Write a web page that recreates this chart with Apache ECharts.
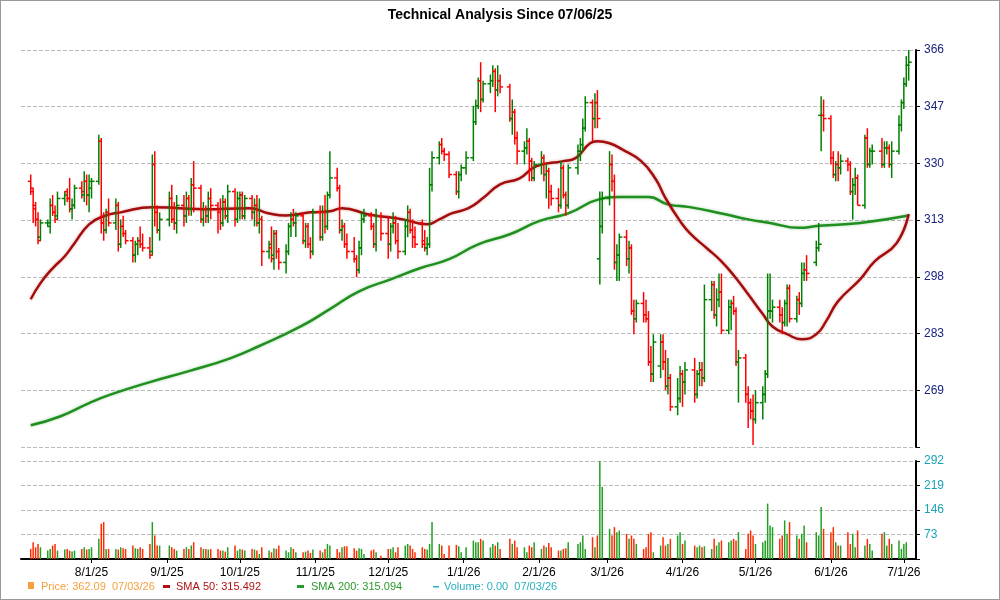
<!DOCTYPE html>
<html><head><meta charset="utf-8">
<script src="https://cdn.jsdelivr.net/npm/echarts@6/dist/echarts.min.js"></script>
<style>html,body{margin:0;padding:0;background:#fff}#c{width:1000px;height:600px;box-sizing:border-box;border:1px solid #999}</style>
</head><body><div id="c"></div>
<script>
// rows: [open, high, low, close, volume(K)]
const jul25=[[325,327,321,323,30],[322,323,313,317,50],[318,319,312,314,35],[314,316,307,308,45],[309,314,308,313,35],[313,314,312,313,25],[312,320,310,318,30],[318,321,315,316,40],[316,318,313,314,45],[315,322,314,320,25],[320,322,318,321,28],[322,323,319,320,30],[320,326,316,317,25],[317,320,314,318,22],[318,324,317,323,25],[323,325,320,322,30],[321,328,319,325,35],[325,327,318,321,28],[321,327,316,325,30]];
const aug25=[[323,326,320,325,35],[325,339,324,337,60],[337,338,310,313,105],[313,316,308,311,110],[311,317,310,316,30],[316,320,312,313,30],[313,320,311,318,30],[318,319,305,307,28],[307,314,306,312,35],[312,315,309,310,32],[310,311,307,308,30],[308,309,302,304,40],[304,308,302,307,32],[307,309,304,308,30],[308,312,306,307,35],[307,310,305,306,30],[306,309,303,304,45],[305,333,304,330,110],[330,334,312,316,70],[316,318,310,311,40],[311,316,308,314,40]];
const sep25=[[314,322,312,320,40],[320,324,313,314,35],[314,319,311,313,30],[313,321,310,318,25],[318,321,312,315,30],[315,322,313,320,35],[320,321,315,317,30],[317,326,315,324,40],[324,331,316,323,50],[323,324,313,314,35],[314,319,312,317,30],[317,318,313,315,30],[315,322,313,320,28],[320,323,314,318,30],[318,319,310,316,30],[316,320,311,313,25],[313,321,312,319,25],[319,320,314,315,22],[315,324,313,322,35],[322,323,312,314,40],[314,322,313,320,25]];
const oct25=[[320,322,314,321,30],[321,322,314,315,28],[315,321,314,320,25],[320,321,314,316,30],[316,320,312,318,28],[318,321,312,313,25],[313,320,310,314,15],[314,315,301,305,35],[305,308,303,307,25],[306,312,302,303,20],[304,311,300,310,32],[310,311,303,305,30],[305,306,300,302,40],[302,307,299,305,25],[305,313,304,312,20],[312,316,309,314,35],[314,317,312,313,30],[313,316,309,315,20],[315,316,307,308,20],[308,313,306,312,22],[312,313,306,307,25],[307,309,303,305,18],[305,317,304,316,28]];
const nov25=[[316,318,308,309,25],[309,318,308,316,20],[316,321,310,312,30],[312,322,311,321,45],[321,334,320,326,40],[326,329,322,323,30],[323,324,310,311,20],[311,314,308,312,35],[312,313,306,307,38],[307,310,303,305,38],[305,309,302,303,32],[303,304,298,300,25],[300,308,299,306,32],[306,316,304,314,30],[314,317,313,315,15],[315,316,311,312,25],[312,313,306,307,28],[307,317,305,315,20],[315,316,308,310,10]];
const dec25=[[310,315,303,307,30],[307,313,305,312,30],[312,316,310,313,35],[313,315,307,308,20],[308,313,303,305,35],[305,314,304,312,40],[312,318,309,316,45],[316,317,310,311,40],[311,314,306,309,30],[309,312,306,307,20],[313,314,306,307,35],[308,311,305,306,30],[306,309,304,307,28],[307,329,306,324,45],[324,334,322,332,110],[332,337,330,336,45],[336,338,333,334,40],[334,335,331,333,15],[333,334,326,327,40],[327,328,321,322,42],[322,328,320,327,38],[327,330,325,329,20]];
const jan26=[[329,334,327,332,35],[332,348,331,343,55],[343,350,342,348,50],[348,357,347,356,50],[356,362,346,350,60],[350,356,349,355,55],[355,358,352,356,35],[356,361,354,359,45],[359,360,346,353,40],[353,361,351,356,50],[356,358,352,354,30],[354,355,343,344,60],[344,350,339,346,45],[346,347,336,338,55],[338,340,330,334,35],[334,337,330,335,35],[335,341,333,337,20],[337,338,325,331,40],[331,332,325,326,35],[326,331,325,330,50]];
const feb26=[[330,334,327,332,30],[332,333,325,327,40],[327,330,320,328,35],[328,329,317,322,48],[322,324,318,320,35],[320,323,316,318,25],[318,331,317,329,25],[329,330,320,321,30],[321,322,315,318,32],[318,330,317,329,50],[329,336,327,334,45],[334,338,331,336,50],[336,344,334,341,70],[341,351,340,349,30],[349,350,337,344,65],[344,352,341,349,35],[349,353,341,344,70],[303,322,296,312,292],[312,322,310,320,215]];
const mar26=[[320,334,318,330,90],[330,333,322,325,70],[325,327,300,302,95],[302,307,297,304,80],[304,310,297,309,85],[309,311,301,303,75],[303,308,299,306,60],[306,307,288,289,70],[289,292,283,287,60],[287,292,286,291,45],[291,294,286,288,30],[288,292,286,287,35],[287,289,275,276,75],[276,280,271,273,80],[273,283,271,281,20],[275,283,272,281,40],[281,283,274,276,65],[276,279,269,270,40],[270,277,268,272,45],[272,273,264,265,60],[265,272,263,267,70],[267,275,266,273,80]];
const apr26=[[273,274,265,271,45],[271,276,268,274,55],[274,277,266,268,40],[268,274,267,273,35],[273,276,270,274,40],[274,276,270,272,35],[272,296,271,292,38],[292,297,289,296,30],[296,297,287,288,60],[288,295,285,292,40],[292,299,290,294,50],[294,299,283,284,55],[284,292,283,290,50],[290,292,284,291,55],[291,293,288,289,60],[289,290,275,276,55],[276,279,266,277,80],[277,278,266,268,30],[268,270,260,266,75],[266,267,262,264,85],[264,268,256,262,70]];
const may26=[[262,269,261,266,45],[266,270,262,268,50],[268,274,266,273,55],[273,299,272,289,165],[289,299,287,289,100],[289,292,286,290,95],[290,292,286,288,60],[288,290,283,286,70],[286,292,285,291,115],[291,296,285,295,75],[295,296,286,287,110],[287,293,286,292,70],[292,294,288,291,60],[291,302,290,299,75],[299,302,297,300,100],[300,304,297,299,50],[302,308,301,306,80],[306,313,305,307,70],[345,351,334,345,155],[345,350,340,344,90]];
const jun26=[[344,345,330,332,80],[332,334,326,327,95],[327,331,325,330,50],[330,334,325,329,40],[329,333,327,331,40],[331,332,328,330,80],[330,331,321,322,45],[322,326,314,324,75],[324,329,321,326,35],[326,327,318,318,85],[318,339,317,338,40],[338,341,329,330,60],[330,335,329,334,45],[334,336,330,334,25],[334,338,329,330,75],[330,337,329,335,80],[335,337,333,335,40],[335,336,329,330,60],[330,337,326,334,45],[334,345,333,342,55],[342,350,340,349,30]];
const jul26=[[349,357,347,355,45],[355,364,354,361,50],[361,366,356,362,0]];
const holidays=['2025-09-01','2025-11-27','2025-12-25','2026-01-01','2026-01-19','2026-02-16','2026-04-03','2026-05-25','2026-06-19'];
const sma50=[['2025-07-07',292.1],['2025-07-11',296.4],['2025-07-16',300.4],['2025-07-21',303.7],['2025-07-25',307.3],['2025-07-31',312.6],['2025-08-06',314.9],['2025-08-13',316.0],['2025-08-26',317.5],['2025-09-06',317.2],['2025-09-16',316.9],['2025-10-05',317.2],['2025-10-13',315.7],['2025-10-20',315.1],['2025-10-30',316.0],['2025-11-07',316.3],['2025-11-12',317.2],['2025-11-23',315.4],['2025-12-07',314.0],['2025-12-17',312.6],['2025-12-22',314.0],['2025-12-27',315.7],['2026-01-03',317.2],['2026-01-09',320.1],['2026-01-16',324.1],['2026-01-24',325.9],['2026-01-31',329.5],['2026-02-11',331.0],['2026-02-16',331.9],['2026-02-22',336.4],['2026-02-25',337.0],['2026-03-02',336.4],['2026-03-07',334.6],['2026-03-15',331.0],['2026-03-21',325.6],['2026-03-25',320.1],['2026-03-31',313.5],['2026-04-04',310.1],['2026-04-11',305.9],['2026-04-17',302.3],['2026-04-23',297.7],['2026-04-28',293.4],['2026-05-04',288.2],['2026-05-08',285.0],['2026-05-14',283.0],['2026-05-20',281.7],['2026-05-26',283.0],['2026-05-30',286.3],['2026-06-04',291.6],['2026-06-13',297.4],['2026-06-19',302.3],['2026-06-28',307.3],['2026-07-03',315.5]];
const sma200=[['2025-07-07',260.6],['2025-07-19',262.7],['2025-07-31',265.9],['2025-08-09',268.0],['2025-08-25',271.0],['2025-09-10',273.7],['2025-09-27',276.9],['2025-10-09',280.0],['2025-10-26',285.0],['2025-11-07',289.5],['2025-11-19',294.2],['2025-12-02',297.4],['2025-12-14',300.4],['2025-12-26',302.9],['2026-01-07',307.0],['2026-01-20',309.8],['2026-02-01',313.5],['2026-02-13',315.7],['2026-02-26',319.8],['2026-03-06',320.4],['2026-03-18',320.4],['2026-03-26',318.3],['2026-04-04',317.5],['2026-04-17',315.7],['2026-04-28',314.0],['2026-05-07',313.0],['2026-05-19',311.6],['2026-05-27',312.2],['2026-06-13',313.0],['2026-07-03',315.1]];
const priceTicks=['269','283','298','313','330','347','366'];
const volTicks=['0','73','146','219','292'];
const monthTicks=['2025-08-01','2025-09-01','2025-10-01','2025-11-01','2025-12-01','2026-01-01','2026-02-01','2026-03-01','2026-04-01','2026-05-01','2026-06-01','2026-07-01'];

const rows=[].concat(jul25,aug25,sep25,oct25,nov25,dec25,jan26,feb26,mar26,apr26,may26,jun26,jul26);
const pad=n=>(n<10?'0':'')+n;
const ts=s=>{const p=s.split('-');return Date.UTC(+p[0],p[1]-1,+p[2]);};
const dates=[];
for(let t=ts('2025-07-07');t<=ts('2026-07-03');t+=86400000){
  const d=new Date(t);const s=d.getUTCFullYear()+'-'+pad(d.getUTCMonth()+1)+'-'+pad(d.getUTCDate());
  if(d.getUTCDay()===0||d.getUTCDay()===6||holidays.includes(s))continue;
  dates.push(t);
}
const B=1.05267, T=p=>Math.log(p/269)/Math.log(B);
const n=Math.min(rows.length,dates.length);
const GREEN='#008000',RED='#ff0000';
const ohlc=[],vol=[];
for(let i=0;i<n;i++){const r=rows[i];ohlc.push([dates[i],T(r[0]),T(r[1]),T(r[2]),T(r[3])]);
  vol.push({value:[dates[i],r[4]],itemStyle:{color:r[3]>=r[0]?'#22a022':'#ff2a00'}});}
const xmin=ts('2025-07-03'),xmax=ts('2026-07-06');
const chart=echarts.init(document.getElementById('c'));
const lab={fontFamily:'Liberation Sans, Arial',fontSize:12};
const mt=monthTicks.map(ts);
const LF='11px Liberation Sans, Arial';
chart.setOption({
  animation:false,
  title:{text:'Technical Analysis Since 07/06/25',left:'center',top:2,textStyle:{fontFamily:'Liberation Sans, Arial',fontSize:14,fontWeight:'bold',color:'#000'}},
  grid:[{left:20,right:83,top:49,height:397},{left:20,right:83,top:460,height:98}],
  xAxis:[
    {type:'value',gridIndex:0,min:xmin,max:xmax,axisLine:{show:false},axisTick:{show:false},axisLabel:{show:false},splitLine:{show:false}},
    {type:'value',gridIndex:1,min:xmin,max:xmax,axisLine:{onZero:false,lineStyle:{color:'#000',width:2}},
     axisTick:{customValues:mt,length:4,lineStyle:{color:'#000'}},
     axisLabel:{customValues:mt,color:'#000',...lab,formatter:v=>{const d=new Date(v);return (d.getUTCMonth()+1)+'/'+d.getUTCDate()+'/'+String(d.getUTCFullYear()).slice(2);}},
     splitLine:{show:false}}
  ],
  yAxis:[
    {type:'value',gridIndex:0,position:'right',min:-1,max:6,interval:1,axisLine:{show:true,lineStyle:{color:'#000',width:2}},axisTick:{show:true,length:4,lineStyle:{color:'#000'}},
     axisLabel:{color:'#1a237e',...lab,formatter:v=>v>=0?priceTicks[Math.round(v)]:''},splitLine:{lineStyle:{color:'#bbb',type:'dashed'}}},
    {type:'value',gridIndex:1,position:'right',min:0,max:292,interval:73,axisLine:{show:true,lineStyle:{color:'#000',width:2}},axisTick:{show:true,length:4,lineStyle:{color:'#000'}},
     axisLabel:{color:'#1aa3b5',...lab,formatter:v=>v>0?volTicks[Math.round(v/73)]:''},splitLine:{lineStyle:{color:'#bbb',type:'dashed'}}}
  ],
  series:[
    {type:'line',xAxisIndex:0,yAxisIndex:0,data:sma200.map(d=>[ts(d[0]),T(d[1])]),smooth:true,showSymbol:false,lineStyle:{color:'#1f8f1f',width:2.5,shadowColor:'rgba(0,128,0,0.35)',shadowBlur:3},z:1},
    {type:'line',xAxisIndex:0,yAxisIndex:0,data:sma50.map(d=>[ts(d[0]),T(d[1])]),smooth:true,showSymbol:false,lineStyle:{color:'#a30d0d',width:2.5,shadowColor:'rgba(160,0,0,0.35)',shadowBlur:3},z:1},
    {type:'custom',xAxisIndex:0,yAxisIndex:0,data:ohlc,encode:{x:0,y:[1,2,3,4]},z:3,
     renderItem:(params,api)=>{const x=api.value(0),o=api.value(1),h=api.value(2),l=api.value(3),c=api.value(4);
       const pH=api.coord([x,h]),pL=api.coord([x,l]),pO=api.coord([x,o]),pC=api.coord([x,c]);
       const st={stroke:c>=o?GREEN:RED,lineWidth:1.5};
       return {type:'group',children:[
         {type:'line',shape:{x1:pH[0],y1:pH[1],x2:pL[0],y2:pL[1]},style:st},
         {type:'line',shape:{x1:pO[0]-3,y1:pO[1],x2:pO[0],y2:pO[1]},style:st},
         {type:'line',shape:{x1:pC[0],y1:pC[1],x2:pC[0]+3,y2:pC[1]},style:st}]};}},
    {type:'bar',xAxisIndex:1,yAxisIndex:1,data:vol,barWidth:1.5}
  ],
  graphic:[
    {type:'rect',left:27,top:581,shape:{width:6,height:7},style:{fill:'#f5a03c'}},
    {type:'text',left:40,top:580,style:{text:'Price: 362.09  07/03/26',fill:'#f5a03c',font:LF}},
    {type:'rect',left:162,top:584,shape:{width:7,height:3},style:{fill:'#b01010'}},
    {type:'text',left:175,top:580,style:{text:'SMA 50: 315.492',fill:'#b01010',font:LF}},
    {type:'rect',left:296,top:584,shape:{width:7,height:3},style:{fill:'#2a9a2a'}},
    {type:'text',left:310,top:580,style:{text:'SMA 200: 315.094',fill:'#2a9a2a',font:LF}},
    {type:'rect',left:432,top:585,shape:{width:6,height:1.5},style:{fill:'#2ab0c0'}},
    {type:'text',left:443,top:580,style:{text:'Volume: 0.00  07/03/26',fill:'#2ab0c0',font:LF}}
  ]
});
</script></body></html>
